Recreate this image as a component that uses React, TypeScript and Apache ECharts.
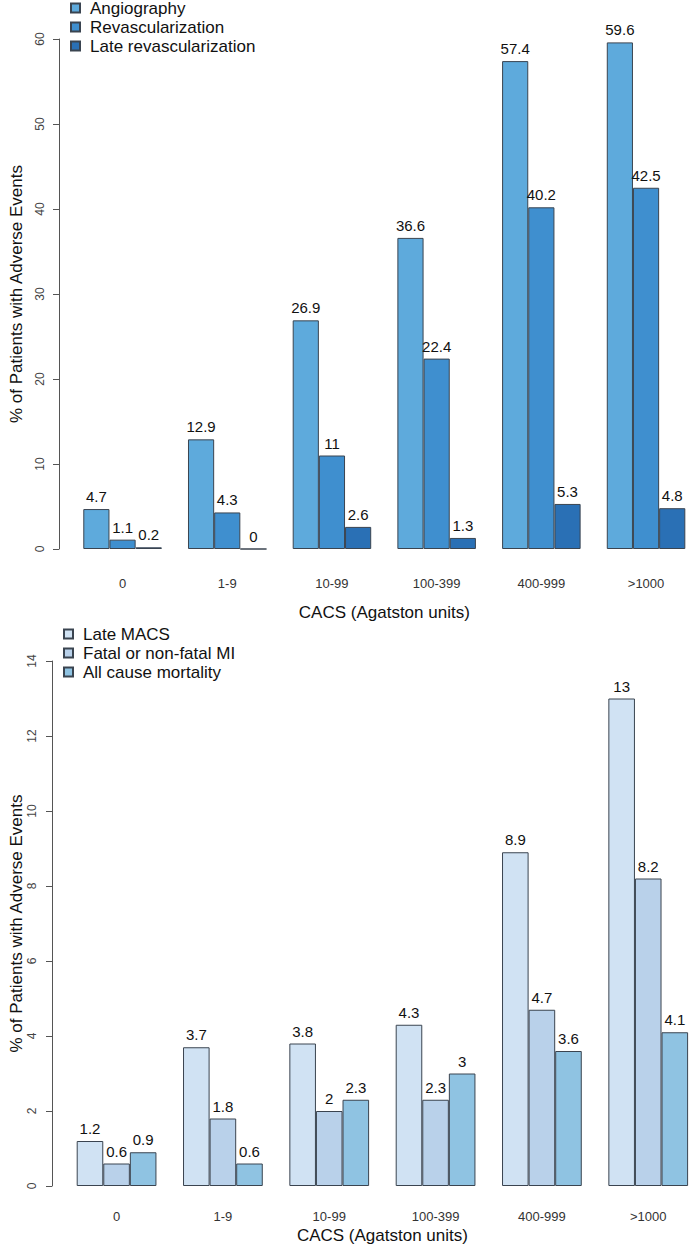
import React, { useEffect, useRef } from "react";
import * as echarts from "echarts";

const categories = ["0", "1-9", "10-99", "100-399", "400-999", ">1000"];

const topSeriesNames = ["Angiography", "Revascularization", "Late revascularization"];
const angiography = [4.7, 12.9, 26.9, 36.6, 57.4, 59.6];
const revascularization = [1.1, 4.3, 11, 22.4, 40.2, 42.5];
const lateRevascularization = [0.2, 0, 2.6, 1.3, 5.3, 4.8];
const topColors = ["#5EAADC", "#3F8FCF", "#2A70B5"];

const bottomSeriesNames = ["Late MACS", "Fatal or non-fatal MI", "All cause mortality"];
const lateMacs = [1.2, 3.7, 3.8, 4.3, 8.9, 13];
const fatalMi = [0.6, 1.8, 2, 2.3, 4.7, 8.2];
const allCauseMortality = [0.9, 0.6, 2.3, 3, 3.6, 4.1];
const bottomColors = ["#D0E2F3", "#B9D1EA", "#8FC3E2"];

const yTitle = "% of Patients with Adverse Events";
const xTitle = "CACS (Agatston units)";

const FONT = "'Liberation Sans', Arial, Helvetica, sans-serif";

export default function App() {
  const ref = useRef<HTMLDivElement>(null);
  useEffect(() => {
    if (!ref.current) return;
    const chart = echarts.init(ref.current, undefined, { renderer: "svg" });

    const mkBar = (name: string, data: number[], color: string, idx: number) => ({
      name,
      type: "bar",
      xAxisIndex: idx,
      yAxisIndex: idx,
      data,
      barGap: "0%",
      barCategoryGap: "25%",
      itemStyle: { color, borderColor: "#3a4450", borderWidth: 1 },
      label: {
        show: true,
        position: "top",
        distance: 5,
        color: "#111",
        fontSize: 15,
        fontFamily: FONT,
      },
    });

    const xAxisBase = (idx: number, margin: number, nameGap: number) => ({
      type: "category",
      gridIndex: idx,
      data: categories,
      axisLine: { show: false },
      axisTick: { show: false },
      axisLabel: { color: "#333", fontSize: 13, fontFamily: FONT, margin },
      name: xTitle,
      nameLocation: "middle",
      nameGap,
      nameMoveOverlap: false,
      nameTextStyle: { color: "#111", fontSize: 17, fontFamily: FONT },
    });

    const yAxisBase = (idx: number, max: number, interval: number, offset: number, nameGap: number, margin: number) => ({
      type: "value",
      gridIndex: idx,
      min: 0,
      max,
      interval,
      offset,
      splitLine: { show: false },
      axisLine: { show: true, lineStyle: { color: "#555", width: 1 } },
      axisTick: { show: true, length: 6, lineStyle: { color: "#555" } },
      axisLabel: { rotate: 90, color: "#444", fontSize: 12, fontFamily: FONT, margin },
      name: yTitle,
      nameLocation: "middle",
      nameGap,
      nameMoveOverlap: false,
      nameTextStyle: { color: "#111", fontSize: 17, fontFamily: FONT },
    });

    const legendBase = (names: string[], left: number, top: number) => ({
      orient: "vertical",
      left,
      top,
      data: names,
      icon: "rect",
      itemWidth: 9,
      itemHeight: 9,
      itemGap: 1,
      textStyle: { color: "#111", fontSize: 17, fontFamily: FONT, lineHeight: 18, padding: [0, 0, 0, 5] },
    });

    chart.setOption({
      animation: false,
      backgroundColor: "#ffffff",
      grid: [
        { left: 70.2, top: 39, width: 628.2, height: 510, outerBoundsMode: "none", containLabel: false },
        { left: 63.4, top: 661, width: 638, height: 525, outerBoundsMode: "none", containLabel: false },
      ],
      legend: [
        legendBase(topSeriesNames, 65, -6),
        legendBase(bottomSeriesNames, 58, 620),
      ],
      xAxis: [xAxisBase(0, 28, 55), xAxisBase(1, 24, 41)],
      yAxis: [yAxisBase(0, 60, 10, 11.2, 34, 13), yAxisBase(1, 14, 2, 11.4, 27, 14)],
      series: [
        mkBar(topSeriesNames[0], angiography, topColors[0], 0),
        mkBar(topSeriesNames[1], revascularization, topColors[1], 0),
        mkBar(topSeriesNames[2], lateRevascularization, topColors[2], 0),
        mkBar(bottomSeriesNames[0], lateMacs, bottomColors[0], 1),
        mkBar(bottomSeriesNames[1], fatalMi, bottomColors[1], 1),
        mkBar(bottomSeriesNames[2], allCauseMortality, bottomColors[2], 1),
      ],
    });
    return () => chart.dispose();
  }, []);

  return (
    <div
      ref={ref}
      style={{ position: "absolute", left: 0, top: 0, width: 691, height: 1244, background: "#fff" }}
    />
  );
}
